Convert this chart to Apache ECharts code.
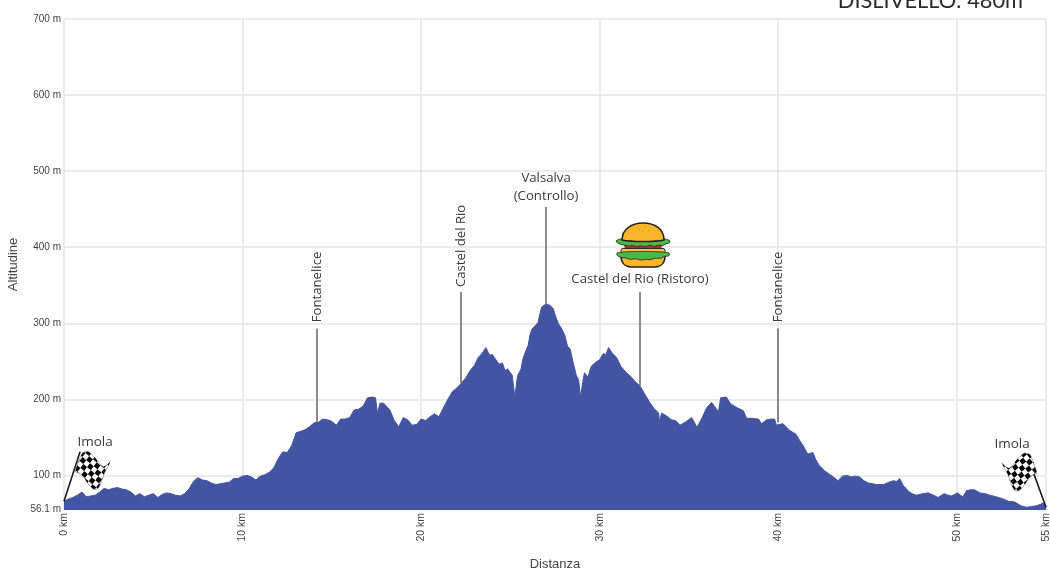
<!DOCTYPE html>
<html>
<head>
<meta charset="utf-8">
<style>html,body{margin:0;padding:0;background:#fff}#c{width:1050px;height:572px}</style>
<script src="https://cdn.jsdelivr.net/npm/echarts@6/dist/echarts.min.js"></script>
</head>
<body>
<div id="c"></div>
<script>
const distanceKm = [
0,.25,.5,.75,1,1.25,1.5,1.75,2,2.25,2.5,2.75,3,3.25,3.5,3.75,4,4.25,4.5,4.75,5,5.25,5.5,5.75,6,6.25,6.5,6.75,7,7.25,7.5,7.75,8,8.25,8.5,8.75,9,9.25,9.5,9.75,10,10.25,10.5,10.75,11,11.25,11.5,11.75,12,12.25,12.5,12.75,13,13.25,13.5,13.75,14,
14.25,14.5,14.75,15,15.25,15.5,15.75,16,16.25,16.5,16.75,17,17.25,17.45,17.55,17.7,17.9,18.25,18.5,18.75,19,19.25,19.5,19.75,20,20.25,20.5,20.75,21,21.25,21.5,21.75,22,22.25,22.5,22.75,
23,23.2,23.4,23.63,23.75,23.85,24,24.1,24.25,24.4,24.55,24.7,24.85,25,25.1,25.25,25.4,25.5,25.6,25.7,25.85,26,26.1,26.2,26.4,26.55,26.65,26.75,26.9,27.07,27.25,27.4,27.55,27.7,27.85,28.05,28.2,28.35,28.5,28.7,28.82,28.93,29.05,29.15,29.35,29.45,29.55,29.8,30,30.2,30.35,30.5,30.7,30.95,31.2,31.5,31.75,32,32.25,32.5,32.8,33.05,33.3,33.35,33.47,33.75,
34.03,34.25,34.5,34.8,35.15,35.3,35.45,35.7,36,36.27,36.55,36.65,36.78,37.1,37.25,37.4,37.7,38.05,38.23,38.55,38.9,39.07,39.35,39.6,39.8,39.9,40.27,40.65,41,41.2,41.4,41.65,41.95,42.1,42.3,42.6,42.9,43.15,43.35,43.6,43.85,44.1,44.3,44.55,44.8,
45.05,45.5,45.9,46.2,46.45,46.65,46.8,47,47.3,47.5,47.75,48.1,48.4,48.7,48.95,49.3,49.5,49.7,50.05,50.2,50.35,50.55,50.8,51,51.3,51.6,51.85,52.2,52.6,52.9,53.25,53.6,53.9,54.2,54.45,54.7,54.85,55];
const elevationM = [
66,69,71,74,78,72,73,74,78,83,81,83,84,82,81,78,73,76,72,74,76,71,75,77,76,74,73,76,82,92,97,94,93,90,88,89,90,91,96,96,99,100,98,94,99,101,104,110,122,131,130,139,156,158,160,164,169,
170,174,173,171,166,174,174,176,186,187,191,202,203,202,182,195,195,186,172,164,176,173,166,167,174,172,177,181,177,189,200,210,215,221,228,238,
245,255,260,268,262,258,259,255,250,246,248,238,240,235,232,203,231,229,240,253,263,271,285,292,297,301,312,321,324,325,323,319,308,299,294,284,270,266,250,231,226,203,222,235,229,238,244,249,252,260,259,268,261,255,243,235,230,223,218,208,196,188,182,171,182,178,
173,172,166,170,176,170,163,174,189,196,187,183,202,203,197,193,189,185,175,175,174,168,173,174,174,166,168,159,154,146,139,128,130,121,113,106,101,97,93,99,100,98,99,98,93,
90,88,88,91,93,92,96,87,79,76,74,76,77,74,71,76,74,73,77,74,72,80,81,81,77,76,74,72,69,66,65,60,58,59,60,62,64,58];
const xTicks = [0,10,20,30,40,50,55];
const yTicks = [56.1,100,200,300,400,500,600,700];
const stationNames = ['Fontanelice','Castel del Rio','Valsalva\n(Controllo)','Castel del Rio (Ristoro)','Fontanelice'];
const stationKm = [14.17,22.2,27,32.25,40];
const stationBase = [170,221,325,218,170];
const stationTop = [293,341,453,341,293];
const stationLabelAt = [[14.17,347],[22.25,401],[27,478],[32.26,357],[40,347]];
const stationRotate = [90,90,0,0,90];

function flagSvg(mirror){
  const t = mirror ? 'transform="translate(40,0) scale(-1,1)"' : '';
  return 'image://data:image/svg+xml;utf8,' + encodeURIComponent(
  `<svg xmlns="http://www.w3.org/2000/svg" width="160" height="160" viewBox="0 0 40 40"><defs>
  <pattern id="p" width="10" height="10" patternUnits="userSpaceOnUse" patternTransform="rotate(38)">
  <rect width="10" height="10" fill="#fff"/><rect width="5" height="5" fill="#000"/><rect x="5" y="5" width="5" height="5" fill="#000"/></pattern></defs>
  <g ${t}><path d="M0,21 C3,14 5,6 8,2 C13,-1 16,2 19,5 C24,9 26,15 30,16 C33,15 35,13 37,11 C36,14 33,18 31,22 C29,28 27,34 24,38 C20,40 17,37 13,32 C10,27 7,22 0,21Z" fill="url(#p)" stroke="#222" stroke-width=".4"/></g></svg>`);
}
const burgerSvg = 'image://data:image/svg+xml;utf8,' + encodeURIComponent(
`<svg xmlns="http://www.w3.org/2000/svg" width="224" height="184" viewBox="0 0 56 46">
<path d="M6,34 L50,34 C50,41 46,45 40,45 L16,45 C10,45 6,41 6,34Z" fill="#fbb62b" stroke="#222" stroke-width="1.5"/>
<path d="M9,21 L47,21 L45,29 L11,29Z" fill="#d8232a" stroke="#222" stroke-width=".6"/>
<rect x="6" y="26.5" width="44" height="5" rx="2" fill="#fbc43c" stroke="#222" stroke-width="1"/>
<path d="M2,31 C8,29 48,29 54,31 C56,35 51,34 48,35 C45,38 41,35 38,37 C35,39 31,36 28,38 C25,39 21,36 18,37 C15,39 11,35 8,36 C5,35 1,35 2,31Z" fill="#4cb848" stroke="#222" stroke-width=".8"/>
<path d="M1,19 C4,17 6,17 8,17 L48,17 C50,17 52,17 55,19 C55,22 52,21 49,23 C46,25 44,22 41,24 C38,26 36,22 33,24 C30,26 27,23 24,24 C21,26 18,22 15,24 C12,25 10,22 7,23 C5,22 2,22 1,19Z" fill="#4cb848" stroke="#222" stroke-width=".8"/>
<path d="M7,18 C7,7 17,1 28,1 C40,1 49,7 49,18 C40,20 16,20 7,18Z" fill="#fbb62b" stroke="#222" stroke-width="1.5"/>
<circle cx="24" cy="7" r=".5" fill="#a8701a"/><circle cx="30" cy="5" r=".5" fill="#a8701a"/><circle cx="34" cy="8" r=".5" fill="#a8701a"/><circle cx="28" cy="9" r=".5" fill="#a8701a"/>
</svg>`);

const labelBase = {color:'#3a3a3a',fontFamily:'"Open Sans",sans-serif',fontSize:13.2,lineHeight:18};
const lineData = stationKm.map((k,i)=>[{coord:[k,stationBase[i]]},{coord:[k,stationTop[i]]}]);
lineData.push([{coord:[0,66]},{coord:[0.9,131],lineStyle:{color:'#1c1c1c',width:1.6}}]);
lineData.push([{coord:[55,58]},{coord:[53.95,126],lineStyle:{color:'#1c1c1c',width:1.6}}]);
const pointData = stationNames.map((n,i)=>({
  name:n, coord:stationLabelAt[i], symbolSize:1, itemStyle:{color:'transparent'},
  label:{...labelBase,show:true,position:'inside',formatter:n,rotate:stationRotate[i]}
}));
pointData.push({coord:[1.74,143],symbolSize:1,itemStyle:{color:'transparent'},label:{...labelBase,show:true,position:'inside',formatter:'Imola',fontSize:13.5}});
pointData.push({coord:[53.1,141],symbolSize:1,itemStyle:{color:'transparent'},label:{...labelBase,show:true,position:'inside',formatter:'Imola',fontSize:13.5}});
pointData.push({coord:[1.68,106],symbol:flagSvg(false),symbolSize:[38,40],label:{show:false}});
pointData.push({coord:[53.45,104],symbol:flagSvg(true),symbolSize:[38,40],label:{show:false}});
pointData.push({coord:[32.43,403],symbol:burgerSvg,symbolSize:[56,46],label:{show:false}});

const chart = echarts.init(document.getElementById('c'),null,{renderer:'canvas'});
chart.setOption({
  animation:false,
  title:{text:'DISLIVELLO: 480m',right:27,top:-10,textStyle:{fontFamily:'Lato,sans-serif',fontSize:21.8,fontWeight:'normal',color:'#2b2b2b'},padding:0},
  grid:{left:64,right:4,top:19,bottom:62,outerBoundsMode:'none'},
  xAxis:{type:'value',min:0,max:55,interval:5,
    name:'Distanza',nameLocation:'middle',nameGap:48,
    nameTextStyle:{fontFamily:'"Liberation Sans",sans-serif',fontSize:13,color:'#444'},
    axisLine:{show:false},
    axisTick:{show:false,customValues:xTicks},
    axisLabel:{customValues:xTicks,rotate:90,margin:3,fontFamily:'"Liberation Sans",sans-serif',fontSize:10.5,color:'#444',formatter:v=>v+' km',showMaxLabel:true,hideOverlap:false},
    splitLine:{show:true,lineStyle:{color:'#e4e4e4',width:1.5}}},
  yAxis:{type:'value',min:54.5,max:700,
    name:'Altitudine',nameLocation:'middle',nameGap:43,
    nameTextStyle:{fontFamily:'"Liberation Sans",sans-serif',fontSize:13,color:'#444'},
    axisLine:{show:false},
    axisTick:{show:false,customValues:yTicks},
    axisLabel:{customValues:yTicks,margin:3,fontFamily:'"Liberation Sans",sans-serif',fontSize:10,color:'#444',formatter:v=>v+' m',hideOverlap:false},
    splitLine:{show:true,lineStyle:{color:'#e4e4e4',width:1.5}}},
  series:[{
    type:'line',silent:true,showSymbol:false,
    data:distanceKm.map((d,i)=>[d,elevationM[i]]),
    lineStyle:{color:'#4354a3',width:1},
    areaStyle:{color:'#4354a3',opacity:1,origin:'start'},
    markLine:{silent:true,symbol:'none',label:{show:false},animation:false,
      lineStyle:{color:'#666',width:1.5,type:'solid'},data:lineData},
    markPoint:{silent:true,animation:false,data:pointData}
  }]
});
</script>
</body>
</html>
